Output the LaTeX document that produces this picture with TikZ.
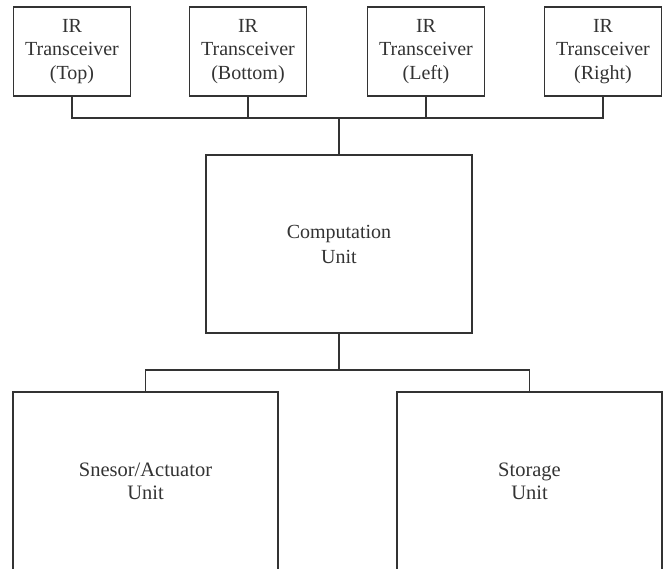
\documentclass[tikz,border=0pt]{standalone}
\usepackage{fontspec}
\setmainfont{Liberation Serif}
\begin{document}
\begin{tikzpicture}[x=1pt,y=-1pt,
  ln/.style={line width=1.3pt,draw=black!80},
  smallbox/.style={ln,rectangle,minimum width=117pt,minimum height=89pt,inner sep=0pt,
    align=center,font=\fontsize{20}{23.5}\selectfont,text=black!80},
  midbox/.style={ln,rectangle,minimum width=266pt,minimum height=178pt,inner sep=0pt,
    align=center,font=\fontsize{20}{25}\selectfont,text=black!80},
  bigbox/.style={ln,rectangle,minimum width=265pt,minimum height=228pt,inner sep=0pt},
  txt/.style={align=center,font=\fontsize{20.5}{23}\selectfont,text=black!80,inner sep=0pt}]
\useasboundingbox (0,0) rectangle (669,568);
\clip (0,0) rectangle (669,568);
\node[smallbox] (t1) at (72,51.5) {IR\\Transceiver\\(Top)};
\node[smallbox] (t2) at (248,51.5) {IR\\Transceiver\\(Bottom)};
\node[smallbox] (t3) at (426,51.5) {IR\\Transceiver\\(Left)};
\node[smallbox] (t4) at (603,51.5) {IR\\Transceiver\\(Right)};
\node[midbox] (comp) at (339,244) {Computation\\Unit};
\node[bigbox] (sens) at (145.5,506) {};
\node[bigbox] (stor) at (529.5,506) {};
\node[txt] (senstxt) at (145.5,481) {Snesor/Actuator\\Unit};
\node[txt] (stortxt) at (529.5,481) {Storage\\Unit};
\coordinate (ju) at (339,118);
\coordinate (jd) at (339,370);
\draw[ln] (t1.south) -- (t1.south |- ju) -- (t4.south |- ju) -- (t4.south);
\draw[ln] (t2.south) -- (t2.south |- ju);
\draw[ln] (t3.south) -- (t3.south |- ju);
\draw[ln] (ju) -- (comp.north);
\draw[ln] (comp.south) -- (jd);
\draw[ln] (sens.north) |- (jd) -| (stor.north);
\end{tikzpicture}
\end{document}
